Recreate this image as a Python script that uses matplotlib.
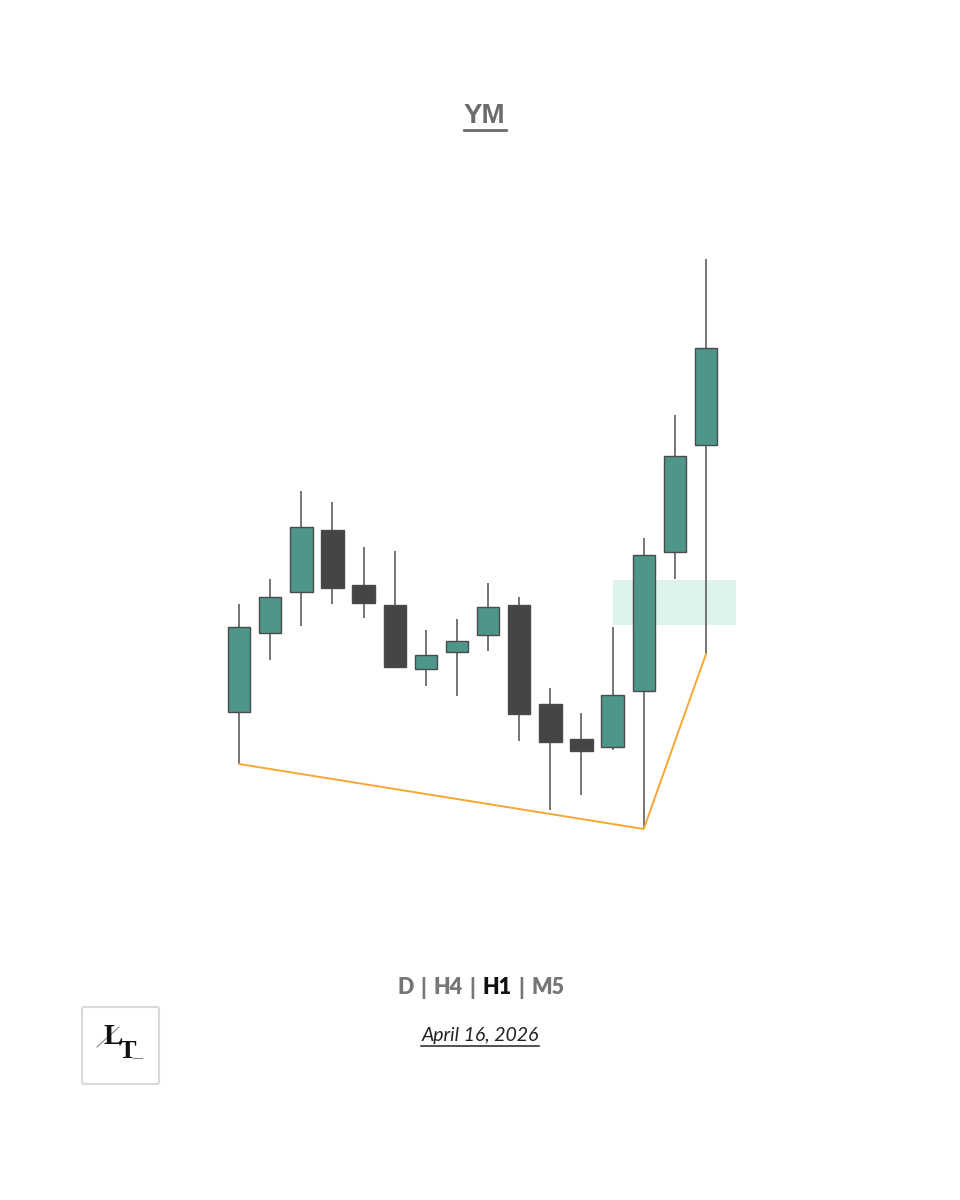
"""
YM H1 candlestick snapshot with sweep line and imbalance zone.
"""

import matplotlib
matplotlib.use("Agg")
import matplotlib.pyplot as plt
from matplotlib.patches import Rectangle, FancyBboxPatch
from matplotlib.lines import Line2D

# ── data (price units) ──
opens  = [288, 367, 408, 470, 415, 395, 331, 348, 365, 395, 296, 261, 253, 309, 448, 555]
highs  = [396, 421, 509, 498, 453, 449, 370, 381, 417, 403, 312, 287, 373, 462, 585, 741]
lows   = [236, 340, 374, 396, 382, 333, 314, 304, 349, 259, 190, 205, 250, 171, 421, 346]
closes = [373, 403, 473, 412, 397, 333, 345, 359, 393, 286, 258, 249, 305, 445, 544, 652]

zone_price = (375, 420)          # shaded zone (low, high)
zone_span = (12.0, 15.95)        # candle-index span of the zone
sweep_idx = [0, 13, 15]          # anchors of the orange sweep line
sweep_px = [236, 171, 346]

title = "YM"
timeframes = ["D", "H4", "H1", "M5"]
active_tf = "H1"
date_label = "April 16, 2026"

UP = "#4f968a"
DOWN = "#454545"
EDGE = "#4a4a4a"
WICK = "#6a6a6a"


def draw_candles(ax):
    w = 0.72
    for i, (o, h, l, c) in enumerate(zip(opens, highs, lows, closes)):
        ax.plot([i, i], [l, h], color=WICK, lw=1.3, zorder=1, solid_capstyle="butt")
        lo, hi = min(o, c), max(o, c)
        ax.add_patch(Rectangle((i - w / 2, lo), w, hi - lo,
                               facecolor=UP if c >= o else DOWN,
                               edgecolor=EDGE, lw=1.0, zorder=2))


def underline(fig, txt, color, lw, pad=3):
    fig.canvas.draw()
    bb = txt.get_window_extent()
    H = fig.bbox.height
    W = fig.bbox.width
    y = (bb.y0 - pad) / H
    fig.add_artist(Line2D([bb.x0 / W, bb.x1 / W], [y, y], color=color, lw=lw,
                          transform=fig.transFigure))


def main():
    fig = plt.figure(figsize=(9.6, 12), dpi=100)
    fig.patch.set_facecolor("white")

    ax = fig.add_axes([0, 0, 1, 1])
    ax.set_xlim(-7.68, 23.16)
    ax.set_ylim(-200, 1000)
    ax.axis("off")

    ax.add_patch(Rectangle((zone_span[0], zone_price[0]),
                           zone_span[1] - zone_span[0], zone_price[1] - zone_price[0],
                           facecolor="#bfe8dc", alpha=0.5, edgecolor="none", zorder=0))

    draw_candles(ax)

    ax.plot(sweep_idx, sweep_px, color="#f7a733", lw=1.4, zorder=4)

    # title
    t = fig.text(0.505, 1 - 116 / 1200, title, ha="center", va="center",
                 fontsize=20, fontweight="bold", color="#6b6b6b",
                 family="Liberation Sans")
    underline(fig, t, "#6b6b6b", 2.0, pad=1)

    # timeframe row, centred piece by piece
    pieces = []
    for k, tf in enumerate(timeframes):
        pieces.append(tf)
        if k < len(timeframes) - 1:
            pieces.append("|")
    fig.canvas.draw()
    renderer = fig.canvas.get_renderer()
    sizes = []
    for p in pieces:
        tt = fig.text(0, 0, p, fontsize=15.5, fontweight="heavy", family="Lato")
        sizes.append(tt.get_window_extent(renderer).width)
        tt.remove()
    sp = 7.0
    total = sum(sizes) + sp * (len(pieces) - 1)
    x = 481 - total / 2
    for p, s in zip(pieces, sizes):
        col = "#111111" if p == active_tf else "#767676"
        fig.text(x / 960, 1 - 988 / 1200, p, ha="left", va="center", fontsize=15.5,
                 fontweight="heavy", family="Lato", color=col)
        x += s + sp

    d = fig.text(0.5, 1 - 1035 / 1200, date_label, ha="center", va="center",
                 fontsize=14, style="italic", family="Lato", color="#222222")
    underline(fig, d, "#222222", 1.1, pad=2)

    # logo
    fig.add_artist(FancyBboxPatch((82 / 960, 1 - 1084 / 1200), 77 / 960, 77 / 1200,
                                  boxstyle="round,pad=0,rounding_size=0.002",
                                  transform=fig.transFigure, facecolor="white",
                                  edgecolor="#d9d9d9", lw=1.5))
    fig.text(113 / 960, 1 - 1037 / 1200, "L", ha="center", va="center", fontsize=21,
             fontweight="bold", family="Liberation Serif", color="#111111")
    fig.text(127 / 960, 1 - 1052 / 1200, "T", ha="center", va="center", fontsize=19,
             fontweight="bold", family="Liberation Serif", color="#111111")
    fig.add_artist(Line2D([97 / 960, 119 / 960], [1 - 1047 / 1200, 1 - 1027 / 1200],
                          color="#888888", lw=0.8, transform=fig.transFigure))
    fig.add_artist(Line2D([133 / 960, 142 / 960], [1 - 1058 / 1200, 1 - 1058 / 1200],
                          color="#888888", lw=0.8, transform=fig.transFigure))

    fig.savefig("out.png", dpi=100, facecolor="white")
    plt.close(fig)


if __name__ == "__main__":
    main()
